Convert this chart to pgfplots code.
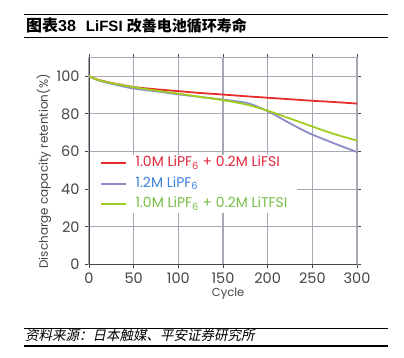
\documentclass[border=0pt]{standalone}
\usepackage{fontspec}
\setmainfont{Liberation Sans}
\newfontfamily\cjk{Noto Sans CJK SC}
\newfontfamily\cjkit[FakeSlant=0.2]{Noto Sans CJK SC}
\newfontfamily\pop{Poppins}
\usepackage{pgfplots}
\pgfplotsset{compat=1.18}
\definecolor{lred}{RGB}{232,45,45}
\definecolor{tred}{RGB}{228,40,60}
\definecolor{lblue}{RGB}{140,140,200}
\definecolor{tblue}{RGB}{60,130,220}
\definecolor{lgreen}{RGB}{160,205,30}
\definecolor{tgreen}{RGB}{120,190,70}
\definecolor{tickgray}{RGB}{70,70,70}
\definecolor{gridgray}{RGB}{168,168,180}
\begin{document}
\begin{tikzpicture}
\path[use as bounding box] (0pt,0pt) rectangle (404pt,357pt);
\fill[white] (0pt,0pt) rectangle (404pt,357pt);
% title
\draw[line width=1.1pt] (23.5pt,342.7pt) -- (388pt,342.7pt);
\draw[line width=1.1pt] (23.5pt,319.7pt) -- (388pt,319.7pt);
\node[anchor=base west, inner sep=0pt] at (26pt,325.2pt)
  {\bfseries{\fontsize{16}{18}\selectfont {\cjk 图表}38}\hspace{10pt}{\fontsize{15}{18}\selectfont LiFSI {\cjk 改善电池循环寿命}}};
% footer
\draw[line width=1.1pt] (23.5pt,28.3pt) -- (388pt,28.3pt);
\draw[line width=1.1pt] (23.5pt,11pt) -- (388pt,11pt);
\node[anchor=base west, inner sep=0pt] at (25pt,16.7pt)
  {\fontsize{13.5}{15}\selectfont\cjkit 资料来源：日本触媒、平安证券研究所};
\begin{axis}[
  at={(89pt,92.7pt)}, anchor=south west,
  scale only axis, width=268pt, height=206.8pt,
  xmin=0, xmax=300, ymin=0, ymax=110,
  xtick={0,50,...,300}, ytick={0,20,...,100},
  xmajorgrids=true, ymajorgrids=true,
  major grid style={draw=gridgray, line width=1.1pt},
  axis line style={draw=gridgray, line width=1.1pt},
  tick align=outside, major tick length=4pt,
  tick style={draw=tickgray, line width=0.9pt},
  /pgf/number format/assume math mode=true,
  tick label style={font=\pop\fontsize{14.5}{16}\selectfont, text=tickgray},
  xticklabel style={yshift=-1pt},
  yticklabel style={xshift=-2pt},
  xlabel={Cycle}, ylabel={Discharge capacity retention(\%)},
  every axis x label/.style={at={(rel axis cs:0.519,-0.158)}, anchor=base,
     font=\pop\fontsize{11.5}{13}\selectfont, text=tickgray},
  every axis y label/.style={at={(rel axis cs:-0.168,0.449)}, rotate=90, anchor=center,
     font=\pop\fontsize{12}{14}\selectfont, text=tickgray},
  legend style={at={(rel axis cs:0.004,0.53)}, anchor=north west, draw=none, fill=white,
    inner xsep=10pt, inner ysep=2pt, row sep=7.5pt,
    font=\pop\fontsize{14}{16}\selectfont,
    nodes={inner sep=0pt, text height=10pt, text depth=3pt}},
  legend cell align=left,
  legend image code/.code={\draw[#1] (0pt,0pt) -- (25pt,0pt);},
]
\draw[tickgray, line width=1.1pt] (rel axis cs:0,0) -- (rel axis cs:0,1);
\draw[tickgray, line width=1.1pt] (rel axis cs:0,0) -- (rel axis cs:1,0);
\addplot[lred, line width=1.8pt, smooth] coordinates {
 (0,100) (10,98.2) (25,96.5) (50,94.3) (75,93.1) (100,92.1) (125,91.1) (150,90.3)
 (175,89.4) (200,88.6) (225,87.8) (250,87) (275,86.3) (300,85.5)};
\addlegendentry{\hspace{8.5pt}\textcolor{tred}{1.0M LiPF\textsubscript{6} + 0.2M LiFSI}}
\addplot[lblue, line width=1.8pt, smooth] coordinates {
 (0,100) (10,97.9) (25,96) (50,93.5) (75,92) (100,90.4) (125,89) (150,87.6)
 (176,85.9) (191,83.4) (206,80) (221,76) (236,72.2) (250,69) (273,64.6) (300,59.7)};
\addlegendentry{\hspace{8.5pt}\textcolor{tblue}{1.2M LiPF\textsubscript{6}}}
\addplot[lgreen, line width=1.8pt, smooth] coordinates {
 (0,100) (10,98.1) (25,96.4) (50,94.2) (75,92.4) (100,90.8) (125,89) (150,87.3)
 (176,85) (200,81.7) (221,78.2) (250,73.3) (273,69.5) (300,65.8)};
\addlegendentry{\hspace{8.5pt}\textcolor{tgreen}{1.0M LiPF\textsubscript{6} + 0.2M LiTFSI}}
\end{axis}
\end{tikzpicture}
\end{document}
